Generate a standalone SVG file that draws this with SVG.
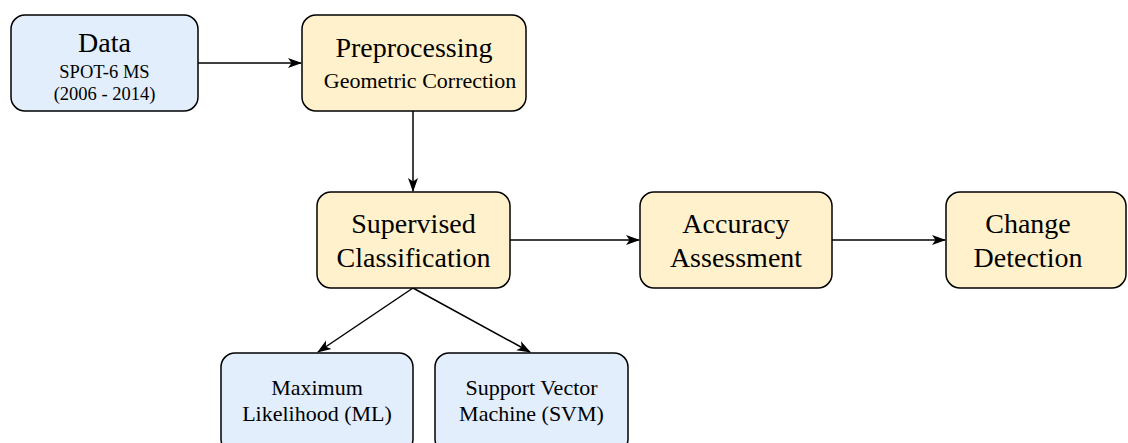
<svg xmlns="http://www.w3.org/2000/svg" width="1128" height="443" viewBox="0 0 1128 443">
<style>
.blue{fill:#e2eefc;stroke:#000;stroke-width:1.5}
.yel{fill:#fff1cc;stroke:#000;stroke-width:1.5}
text{fill:#000;text-anchor:middle}
.t1{font-size:28px}
.t2{font-size:18.5px}
.t4{font-size:22px}
.t3{font-size:22px}
.c{stroke:#000;stroke-width:1.5;fill:none;marker-end:url(#ah)}
</style>
<defs>
<marker id="ah" viewBox="0 0 14 12" refX="13" refY="6" markerWidth="14" markerHeight="12" markerUnits="userSpaceOnUse" orient="auto">
<path d="M0,1 L14,6 L0,11 L3.5,6 Z" fill="#000"/>
</marker>
</defs>
<g id="connectors">
<line class="c" x1="198" y1="63" x2="301" y2="63"/>
<line class="c" x1="413" y1="110" x2="413" y2="191"/>
<line class="c" x1="510" y1="240" x2="639" y2="240"/>
<line class="c" x1="832" y1="240" x2="945" y2="240"/>
<line class="c" x1="413" y1="288" x2="318" y2="352"/>
<line class="c" x1="413" y1="288" x2="530" y2="352"/>
</g>
<g font-family="'Liberation Serif', 'DejaVu Serif', serif">
<g id="data">
<rect class="blue" x="11" y="15" width="187" height="96" rx="14"/>
<text class="t1" x="104.5" y="52">Data</text>
<text class="t2" x="104.5" y="78">SPOT-6 MS</text>
<text class="t2" x="104.5" y="100">(2006 - 2014)</text>
</g>
<g id="preprocessing">
<rect class="yel" x="302" y="15" width="224" height="96" rx="14"/>
<text class="t1" x="414" y="57">Preprocessing</text>
<text class="t4" x="420" y="88">Geometric Correction</text>
</g>
<g id="supervised">
<rect class="yel" x="317" y="192" width="193" height="96" rx="14"/>
<text class="t1" x="413.5" y="233">Supervised</text>
<text class="t1" x="413.5" y="267">Classification</text>
</g>
<g id="accuracy">
<rect class="yel" x="640" y="192" width="192" height="96" rx="14"/>
<text class="t1" x="736" y="233">Accuracy</text>
<text class="t1" x="736" y="267">Assessment</text>
</g>
<g id="change">
<rect class="yel" x="946" y="192" width="180" height="96" rx="14"/>
<text class="t1" x="1028" y="233">Change</text>
<text class="t1" x="1028" y="267">Detection</text>
</g>
<g id="ml">
<rect class="blue" x="221" y="353" width="192" height="100" rx="14"/>
<text class="t3" x="317" y="395">Maximum</text>
<text class="t3" x="317" y="421">Likelihood (ML)</text>
</g>
<g id="svm">
<rect class="blue" x="435" y="353" width="193" height="100" rx="14"/>
<text class="t3" x="531.5" y="395">Support Vector</text>
<text class="t3" x="531.5" y="421">Machine (SVM)</text>
</g>
</g>
</svg>
